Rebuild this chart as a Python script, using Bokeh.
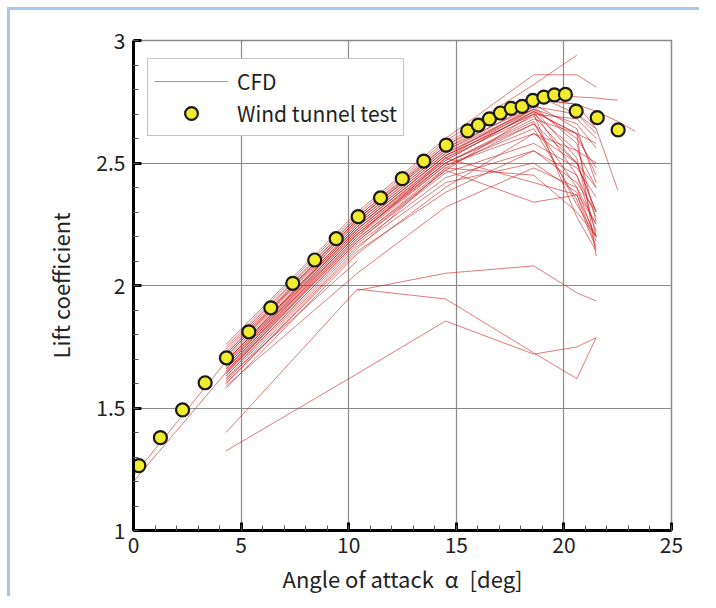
from bokeh.plotting import figure
from bokeh.models import (FixedTicker, NumeralTickFormatter, Range1d, Legend,
                          LegendItem)
from bokeh.embed import file_html
from bokeh.resources import INLINE

# ---------------- data ----------------
wt_alpha = [0.25, 1.25, 2.28, 3.33, 4.32, 5.36, 6.38, 7.40, 8.42, 9.42, 10.44,
            11.48, 12.49, 13.49, 14.53, 15.53, 16.02, 16.54, 17.05, 17.55,
            18.06, 18.56, 19.07, 19.56, 20.07, 20.57, 21.55, 22.52]
wt_cl = [1.265, 1.379, 1.492, 1.603, 1.705, 1.811, 1.909, 2.009, 2.104, 2.191,
         2.281, 2.358, 2.436, 2.508, 2.573, 2.631, 2.655, 2.680, 2.704, 2.723,
         2.731, 2.756, 2.769, 2.778, 2.780, 2.712, 2.685, 2.635]

# CFD runs: CL at these angles of attack (None = no value at that angle)
cfd_alpha = [0.0, 4.3, 10.4, 14.5, 18.6, 20.6, 21.5, 22.5, 23.3]

cfd_from_zero = [
    [1.200, 1.645, 2.19, 2.48, 2.66, 2.50, 2.30],
    [1.223, 1.690, 2.25, 2.54, 2.71, 2.62, 2.45],
]
cfd_main = [
    [None, 1.72, 2.27, 2.56, 2.73, 2.70, 2.62],
    [None, 1.70, 2.26, 2.55, 2.72, 2.66, 2.56],
    [None, 1.69, 2.25, 2.54, 2.72, 2.60, 2.48],
    [None, 1.68, 2.24, 2.53, 2.70, 2.55, 2.40],
    [None, 1.67, 2.23, 2.52, 2.69, 2.50, 2.30],
    [None, 1.66, 2.22, 2.51, 2.71, 2.45, 2.22],
    [None, 1.65, 2.21, 2.50, 2.66, 2.40, 2.18],
    [None, 1.64, 2.20, 2.49, 2.64, 2.35, 2.15],
    [None, 1.69, 2.24, 2.53, 2.73, 2.58, 2.26],
    [None, 1.68, 2.23, 2.52, 2.72, 2.52, 2.20],
    [None, 1.71, 2.26, 2.55, 2.74, 2.64, 2.42],
    [None, 1.67, 2.22, 2.50, 2.68, 2.62, 2.58],
    [None, 1.66, 2.21, 2.49, 2.62, 2.55, 2.50],
    [None, 1.63, 2.18, 2.46, 2.58, 2.48, 2.36],
    [None, 1.62, 2.17, 2.44, 2.55, 2.42, 2.30],
    [None, 1.61, 2.16, 2.42, 2.50, 2.38, 2.25],
    [None, 1.60, 2.15, 2.48, 2.45, 2.30, 2.20],
    [None, 1.65, 2.20, 2.52, 2.42, 2.37, 2.20],
    [None, 1.63, 2.18, 2.47, 2.34, 2.37, 2.16],
    [None, 1.73, 2.28, 2.57, 2.78, 2.70, 2.64],
    [None, 1.58, 2.13, 2.40, 2.62, 2.50, 2.40],
    [None, 1.62, 2.10],
    [None, 1.60, 2.14, 2.38, 2.55, 2.45, 2.28],
    [None, 1.67, 2.23, 2.51, 2.71, 2.62, 2.12],
    [None, 1.69, 2.24, 2.53, 2.70, 2.28, 2.14],
    [None, 1.59, 2.05, 2.32, 2.48, 2.40, 2.25],
    [None, 1.64, 2.19, 2.47, 2.70, 2.68, 2.60],
    [None, 1.66, 2.21, 2.50, 2.67, 2.33, 2.20],
]
cfd_high = [
    [None, 1.75, 2.29, 2.59, 2.82, 2.94],
    [None, 1.76, 2.30, 2.60, 2.86, 2.86, 2.81],
    [None, 1.74, 2.28, 2.58, 2.78, 2.77, 2.765, 2.756],
    [None, 1.72, 2.27, 2.57, 2.76, 2.74, 2.71, 2.67, 2.63],
    [None, 1.71, 2.27, 2.56, 2.76, 2.74, 2.64, 2.39],
]
cfd_low = [
    [None, None, 1.98, 2.05, 2.08, 1.97, 1.937],
    [None, 1.40, 1.985, 1.945, 1.725, 1.62, 1.787],
    [None, 1.325, 1.64, 1.855, 1.72, 1.749, 1.787],
]

x_ticks = [0, 5, 10, 15, 20, 25]
y_ticks = [1, 1.5, 2, 2.5, 3]

FONT = "Noto Sans CJK JP"
TEXT = "#222222"


def rows_to_lines(rows):
    xs, ys = [], []
    for row in rows:
        xs.append([a for a, v in zip(cfd_alpha, row) if v is not None])
        ys.append([v for v in row if v is not None])
    return xs, ys


cfd_xs, cfd_ys = [], []
for group in (cfd_from_zero, cfd_main, cfd_high, cfd_low):
    gx, gy = rows_to_lines(group)
    cfd_xs += gx
    cfd_ys += gy

p = figure(frame_width=538, frame_height=490,
           min_border_left=123, min_border_top=30,
           min_border_right=28, min_border_bottom=66,
           x_range=Range1d(0, 25), y_range=Range1d(1, 3),
           output_backend="svg", toolbar_location=None)
p.styles = {"border-left": "3px solid #a8c8ea", "border-top": "3px solid #a8c8ea",
            "margin-left": "7px", "margin-top": "7px"}

p.background_fill_color = "white"
p.border_fill_color = "white"
p.outline_line_color = "#8a8a8a"
p.outline_line_width = 1.5
p.grid.grid_line_color = "#8a8a8a"
p.grid.grid_line_width = 1.2

p.xaxis.ticker = FixedTicker(ticks=x_ticks, minor_ticks=list(range(0, 26)))
p.yaxis.ticker = FixedTicker(ticks=y_ticks,
                             minor_ticks=[round(1 + 0.1 * i, 1) for i in range(21)])
p.yaxis.formatter = NumeralTickFormatter(format="0.[0]")
p.xaxis.formatter = NumeralTickFormatter(format="0")

p.xaxis.axis_label = "Angle of attack\u2002\u03b1\u2002[deg]"
p.yaxis.axis_label = "Lift coefficient"

for ax in (p.xaxis[0], p.yaxis[0]):
    ax.axis_line_width = 3
    ax.axis_line_color = "black"
    ax.major_tick_in = 8
    ax.major_tick_out = 0
    ax.major_tick_line_width = 3
    ax.major_tick_line_color = "black"
    ax.minor_tick_in = 5
    ax.minor_tick_out = 0
    ax.minor_tick_line_color = "#555555"
    ax.minor_tick_line_width = 1
    ax.major_label_text_font = FONT
    ax.major_label_text_font_size = "21px"
    ax.major_label_text_color = TEXT
    ax.axis_label_text_font = FONT
    ax.axis_label_text_font_size = "22px"
    ax.axis_label_text_font_style = "normal"
    ax.axis_label_text_color = TEXT

p.xaxis.major_label_standoff = 6
p.xaxis.axis_label_standoff = 6
p.yaxis.major_label_standoff = 8
p.yaxis.axis_label_standoff = 17

cfd_r = p.multi_line(cfd_xs, cfd_ys, line_color="#cc2222", line_alpha=0.6,
                     line_width=1)
wt_r = p.scatter(wt_alpha, wt_cl, size=13, fill_color="#f2ec2e",
                 line_color="#1a1a1a", line_width=2.2)

legend = Legend(items=[LegendItem(label="CFD", renderers=[cfd_r]),
                       LegendItem(label="Wind tunnel test", renderers=[wt_r])],
                location=(14, 394))
legend.glyph_width = 74
legend.glyph_height = 32
legend.label_height = 20
legend.spacing = 0
legend.padding = 6
legend.margin = 0
legend.label_standoff = 9
legend.label_text_font = FONT
legend.label_text_font_size = "21px"
legend.label_text_color = TEXT
legend.border_line_color = "#888888"
legend.border_line_width = 1
legend.background_fill_alpha = 1
p.add_layout(legend, "center")

open("out.html", "w").write(file_html(p, INLINE))
